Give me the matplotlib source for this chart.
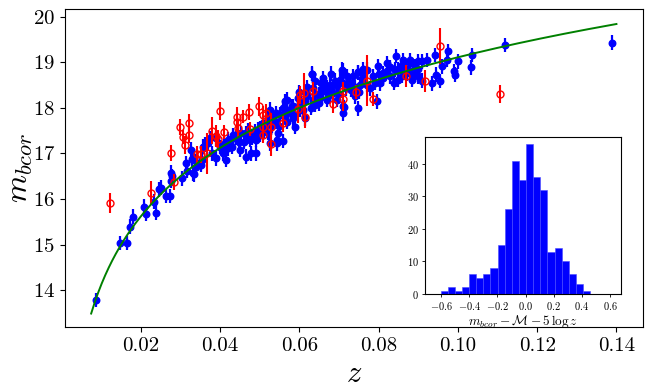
import numpy as np
import matplotlib
matplotlib.use("Agg")
import matplotlib.pyplot as plt

plt.rcParams['font.family'] = 'serif'
plt.rcParams['font.serif'] = ['cmr10', 'DejaVu Serif']
plt.rcParams['mathtext.fontset'] = 'cm'
plt.rcParams['axes.formatter.use_mathtext'] = True
plt.rcParams['axes.unicode_minus'] = True

# ---------------- data ----------------
blue_z = [0.00864, 0.01487, 0.01646, 0.01740, 0.01806, 0.02084, 0.02143, 0.02337, 0.02388, 0.02455,
          0.02522, 0.02631, 0.02750, 0.02758, 0.02775, 0.02800, 0.03044, 0.03161, 0.03338, 0.03280,
          0.03296, 0.03431, 0.03532, 0.03620, 0.03740, 0.03150, 0.03350, 0.03330, 0.03400, 0.03550,
          0.03790, 0.03910, 0.04000, 0.04080, 0.04200, 0.04250, 0.04330, 0.04480, 0.04540, 0.04670,
          0.04750, 0.04920, 0.04900, 0.04960, 0.05090, 0.05210, 0.05260, 0.05410, 0.05430, 0.05590,
          0.05680, 0.05640, 0.04500, 0.04160, 0.03570, 0.03700, 0.03910, 0.04080, 0.04200, 0.04330,
          0.04660, 0.04880, 0.05000, 0.05170, 0.05340, 0.05510, 0.05680, 0.05850, 0.06010, 0.06190,
          0.06350, 0.06570, 0.06730, 0.06940, 0.07280, 0.04660, 0.04790, 0.05260, 0.05430, 0.05470,
          0.06310, 0.06600, 0.07090, 0.07470, 0.07130, 0.07410, 0.05640, 0.05680, 0.05810, 0.05850,
          0.05970, 0.06010, 0.06140, 0.06180, 0.06330, 0.06350, 0.06390, 0.06520, 0.06560, 0.06600,
          0.06690, 0.06770, 0.06860, 0.06940, 0.07030, 0.07070, 0.07110, 0.07190, 0.07280, 0.07360,
          0.07470, 0.07530, 0.07610, 0.07710, 0.07780, 0.07870, 0.07990, 0.08040, 0.08120, 0.08200,
          0.08290, 0.08440, 0.08410, 0.08500, 0.08580, 0.08710, 0.08790, 0.08840, 0.08920, 0.09000,
          0.09000, 0.05890, 0.06140, 0.07110, 0.07480, 0.07950, 0.11190, 0.10350, 0.10330, 0.10010,
          0.09890, 0.09930, 0.09760, 0.09720, 0.09550, 0.09340, 0.09420, 0.09450, 0.09210, 0.09090,
          0.08920, 0.08790, 0.08620, 0.09590, 0.13880, 0.06200, 0.06500, 0.06800, 0.07100, 0.07300,
          0.07600, 0.07900, 0.08200, 0.08500, 0.08700, 0.05600, 0.05800, 0.06000, 0.06400, 0.06600,
          0.07000, 0.07400, 0.07700, 0.08100, 0.08300,
          0.04100, 0.04300, 0.04400, 0.04600, 0.04700, 0.04800, 0.05000, 0.05100, 0.05200, 0.05300,
          0.05400, 0.05500, 0.05700, 0.05900, 0.06100, 0.06300, 0.06500, 0.06700, 0.06900, 0.07200,
          0.07500, 0.07600, 0.08000, 0.08400, 0.08600, 0.08800, 0.09000, 0.09100, 0.06800, 0.06400]
blue_m = [13.78, 15.03, 15.03, 15.39, 15.61, 15.83, 15.67, 15.94, 15.70, 16.21,
          16.25, 16.07, 16.07, 16.40, 16.58, 16.50, 16.45, 16.62, 16.54, 17.08,
          16.87, 16.78, 16.75, 17.19, 17.33, 16.78, 16.93, 16.56, 16.70, 16.86,
          17.00, 16.89, 17.14, 17.00, 17.11, 17.22, 17.33, 17.24, 17.44, 17.38,
          17.30, 17.30, 17.00, 17.52, 17.66, 17.77, 17.96, 17.88, 17.30, 17.27,
          18.18, 17.81, 17.08, 16.86, 17.15, 17.22, 17.33, 17.08, 17.30, 17.40,
          17.44, 17.48, 17.55, 17.66, 17.81, 17.85, 17.96, 18.03, 18.10, 18.25,
          18.18, 18.40, 18.25, 18.47, 18.54, 16.93, 17.00, 17.22, 17.22, 17.44,
          18.75, 18.56, 18.82, 18.79, 18.02, 18.25, 18.14, 17.88, 18.03, 17.77,
          18.21, 17.96, 18.14, 18.32, 18.74, 18.43, 18.07, 18.21, 18.54, 18.36,
          18.18, 18.51, 18.32, 18.18, 18.62, 18.84, 18.03, 18.43, 18.54, 18.69,
          18.78, 18.51, 18.62, 18.84, 18.43, 18.69, 18.91, 18.54, 18.76, 18.98,
          18.69, 19.14, 18.84, 18.62, 18.95, 18.76, 19.05, 18.62, 18.91, 19.02,
          18.69, 17.59, 17.77, 17.88, 17.99, 18.14, 19.38, 19.16, 18.89, 19.02,
          18.80, 18.73, 19.24, 19.05, 18.59, 18.54, 19.16, 18.73, 19.05, 19.02,
          18.73, 18.98, 19.05, 18.91, 19.43, 18.45, 18.30, 18.40, 18.55, 18.40,
          18.70, 18.55, 18.80, 18.85, 18.85, 18.00, 17.90, 18.35, 18.60, 18.65,
          18.30, 18.45, 18.50, 18.65, 18.90,
          17.20, 17.15, 17.35, 17.25, 17.50, 17.35, 17.40, 17.50, 17.45, 17.60,
          17.70, 17.60, 17.70, 17.85, 17.95, 18.00, 18.10, 18.45, 18.60, 18.70,
          18.35, 18.85, 18.75, 18.55, 18.70, 18.80, 18.85, 18.60, 18.75, 18.30]
blue_err = 0.16

red_z = [0.01235, 0.02270, 0.02765, 0.02833, 0.02985, 0.03077, 0.03111, 0.03212, 0.03230, 0.03414,
         0.03530, 0.03680, 0.03790, 0.03910, 0.03950, 0.04003, 0.04100, 0.04432, 0.04430, 0.04457,
         0.04576, 0.04720, 0.04753, 0.04972, 0.05073, 0.05148, 0.05088, 0.05073, 0.05275, 0.05275,
         0.05578, 0.05970, 0.06010, 0.06110, 0.06140, 0.06340, 0.06840, 0.07090, 0.07110, 0.07430,
         0.07720, 0.07870, 0.08690, 0.09170, 0.09550, 0.11060]
red_m = [15.92, 16.14, 17.01, 16.37, 17.58, 17.36, 17.19, 17.41, 17.66, 16.98,
         16.98, 17.00, 17.50, 17.38, 17.31, 17.93, 17.47, 17.81, 17.70, 17.55,
         17.81, 17.91, 17.54, 18.03, 17.85, 17.88, 17.59, 17.41, 17.59, 17.20,
         17.66, 17.97, 18.29, 18.32, 17.81, 18.36, 18.09, 18.36, 18.19, 18.35,
         18.60, 18.19, 18.70, 18.59, 19.36, 18.31]
red_err = [0.22, 0.25, 0.18, 0.18, 0.17, 0.15, 0.20, 0.18, 0.20, 0.18,
           0.18, 0.45, 0.30, 0.25, 0.20, 0.20, 0.15, 0.20, 0.20, 0.20,
           0.15, 0.18, 0.15, 0.20, 0.20, 0.20, 0.20, 0.18, 0.30, 0.25,
           0.20, 0.30, 0.20, 0.45, 0.25, 0.20, 0.20, 0.20, 0.25, 0.15,
           0.55, 0.15, 0.25, 0.25, 0.40, 0.20]

# model curve m = M + 5 log10 z
M_fit = 24.11
z_min, z_max = 0.0075, 0.14

# residual histogram
hist_counts = [1, 2, 1, 2, 6, 5, 6, 8, 15, 26, 41, 35, 46, 36, 32, 13, 14, 10, 6, 3, 1]
hist_lo, hist_hi = -0.603, 0.459

# ---------------- figure ----------------
fig = plt.figure(figsize=(6.54, 3.92), dpi=100)
ax = fig.add_axes([65/654, 65/392, 578/654, 318/392])

ax.errorbar(blue_z, blue_m, yerr=blue_err, fmt='o', color='blue', ecolor='blue',
            markersize=4.7, elinewidth=1.6, capsize=0, zorder=2)
ax.errorbar(red_z, red_m, yerr=red_err, fmt='o', color='red', ecolor='red',
            markersize=5, mfc='none', mec='red', mew=1.0, elinewidth=1.5, capsize=0, zorder=3)

zz = np.linspace(z_min, z_max, 300)
ax.plot(zz, M_fit + 5*np.log10(zz), color='green', lw=1.4, zorder=4)

ax.set_xlim(0.0009, 0.1467)
ax.set_ylim(13.19, 20.17)
ax.set_xticks([0.02, 0.04, 0.06, 0.08, 0.10, 0.12, 0.14])
ax.set_xticklabels(['0.02', '0.04', '0.06', '0.08', '0.10', '0.12', '0.14'])
ax.set_yticks([14, 15, 16, 17, 18, 19, 20])
ax.tick_params(labelsize=15)
ax.set_xlabel(r'$z$', fontsize=22, labelpad=4)
ax.set_ylabel(r'$m_{bcor}$', fontsize=23)
ax.yaxis.set_label_coords(-0.052, 0.5)

# inset
axi = fig.add_axes([425/654, 98/392, 196/654, 157/392])
edges = np.linspace(hist_lo, hist_hi, len(hist_counts) + 1)
axi.bar(edges[:-1], hist_counts, width=np.diff(edges), align='edge',
        color='blue', edgecolor='#4a4aff', linewidth=0.4)
axi.set_xlim(-0.714, 0.678)
axi.set_ylim(0, 48.3)
axi.set_xticks([-0.6, -0.4, -0.2, 0.0, 0.2, 0.4, 0.6])
axi.set_yticks([0, 10, 20, 30, 40])
axi.tick_params(labelsize=7.5, length=2.5, width=0.6, pad=2)
for s in axi.spines.values():
    s.set_linewidth(0.8)
axi.set_xlabel(r'$m_{bcor} - \mathcal{M} - 5\,\log z$', fontsize=9.5, labelpad=0.5)

fig.savefig('out.png', dpi=100)
